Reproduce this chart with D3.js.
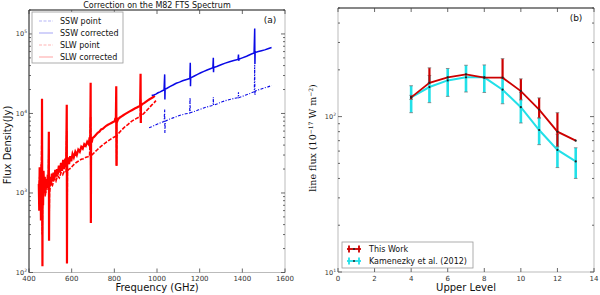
<!DOCTYPE html>
<html>
<head>
<meta charset="utf-8">
<script src="https://cdn.jsdelivr.net/npm/d3@7"></script>
<style>
body{margin:0;background:#fff}
svg{display:block}
text{font-family:"DejaVu Sans",sans-serif;fill:#111}
</style>
</head>
<body>
<svg id="mainsvg" width="600" height="295"></svg>
<script>
let svg = d3.select('#mainsvg');

// ---- panel (a): M82 FTS spectrum, [frequency GHz, flux density Jy]
const slwCorrected = [[446,1300],[448,600],[450,2100],[452,900],[454,1700],[456,450],[458,2300],[460,1100],[461,15300],[462,1200],[463,120],[464,1400],[466,700],[468,1900],[471,1200],[474,1600],[477,1000],[480,1500],[484,1150],[488,1700],[491,1300],[493,5900],[494,250],[495,1200],[499,1600],[503,1250],[507,1750],[511,1400],[515,1800],[519,1450],[523,1950],[527,1600],[531,2000],[535,1700],[540,2200],[545,1800],[550,2400],[555,1900],[560,2600],[565,2000],[570,2700],[574,2100],[577,12900],[578,130],[579,2300],[583,2800],[588,2300],[593,2900],[598,2500],[604,3100],[610,2800],[617,3300],[624,3000],[631,3500],[638,3300],[645,3800],[652,3600],[659,4100],[666,3900],[673,4400],[680,4100],[684,5000],[687,4300],[689,24300],[690,420],[691,5000],[694,4300],[698,4900],[706,5100],[714,5400],[722,5700],[730,5900],[738,6300],[746,6400],[754,6700],[762,7000],[770,7200],[778,7400],[786,7600],[794,7800],[802,8000],[805,8800],[807,7800],[809,22000],[810,2200],[811,8800],[814,8000],[818,8500],[826,8900],[834,9200],[842,9500],[850,9800],[858,10100],[866,10400],[874,10700],[882,11000],[890,11300],[898,11600],[906,11900],[914,12200],[921,12500],[923,31600],[924,7600],[925,12600],[933,13200],[941,13600],[949,14100],[957,14600],[965,15100],[973,15500],[981,16000],[990,16600]];
const slwPoint = [[446,1100],[450,1600],[454,800],[458,1700],[461,9000],[462,300],[464,1200],[470,1400],[476,900],[482,1300],[490,1100],[493,3500],[494,400],[496,1000],[502,1350],[510,1250],[518,1500],[526,1400],[534,1650],[542,1550],[550,1800],[558,1700],[566,1900],[574,1850],[577,6000],[578,300],[580,1900],[588,2000],[596,2050],[605,2200],[615,2350],[625,2450],[635,2550],[645,2650],[655,2700],[665,2800],[675,2850],[684,2900],[689,9000],[690,900],[692,2950],[700,3100],[710,3300],[720,3500],[730,3700],[740,3900],[750,4100],[760,4300],[770,4500],[780,4700],[790,4900],[800,5050],[809,5200],[810,9000],[811,2200],[812,5300],[822,5700],[832,6100],[842,6500],[852,6900],[862,7200],[872,7600],[882,8000],[892,8300],[902,8600],[912,8900],[921,9100],[923,15000],[924,7600],[926,9300],[936,9900],[946,10500],[956,11200],[966,12000],[976,12800],[986,13600],[995,14500]];
const sswCorrected = [[975,16800],[985,17100],[995,17500],[1005,18200],[1015,18700],[1025,19300],[1033,19800],[1036,31000],[1037,15000],[1038,20200],[1045,20600],[1060,21800],[1075,22800],[1090,24000],[1105,24800],[1120,25800],[1135,26600],[1150,27300],[1154,27800],[1156,43400],[1157,22000],[1158,28000],[1175,29600],[1190,31000],[1205,32500],[1220,33800],[1235,35200],[1250,36500],[1262,37500],[1264,50000],[1265,33000],[1266,37800],[1280,39000],[1300,41000],[1320,43000],[1340,44800],[1360,46300],[1380,47800],[1382,55000],[1383,46000],[1385,48200],[1400,50000],[1420,52500],[1440,55500],[1455,57500],[1458,117000],[1459,42000],[1460,58500],[1475,60000],[1490,61500],[1505,63000],[1520,65000],[1537,67500]];
const sswPoint = [[963,6600],[975,6800],[990,7100],[1005,7400],[1020,7700],[1033,7900],[1036,11200],[1037,5700],[1039,8000],[1055,8400],[1075,8800],[1095,9200],[1115,9600],[1135,9900],[1153,10100],[1155,15800],[1156,10200],[1175,10600],[1195,11100],[1215,11600],[1235,12100],[1255,12500],[1263,12700],[1264,16000],[1265,12700],[1285,13300],[1305,14000],[1325,14600],[1345,15100],[1365,15500],[1380,15800],[1382,18500],[1383,15800],[1400,16400],[1420,17200],[1440,18000],[1456,18800],[1458,41000],[1459,17000],[1461,19200],[1480,20000],[1500,20800],[1520,21600],[1537,22400]];
const freqTicks = [400, 600, 800, 1000, 1200, 1400, 1600];
const fluxDecades = [2, 3, 4, 5];
const legendA = ['SSW point', 'SSW corrected', 'SLW point', 'SLW corrected'];

// ---- panel (b): CO line fluxes (1e-17 W m^-2) against upper level J
const levels = [4, 5, 6, 7, 8, 9, 10, 11, 12, 13];
const thisWork = [133, 165, 179, 187, 178, 178, 146, 111, 80, 70];
const thisWorkLow = [129, 165, 179, 187, 178, 178, 128, 98, 64, 70];
const thisWorkHigh = [137, 206, 179, 187, 178, 236, 175, 132, 106, 70];
const kamenetzky = [133, 155, 171, 179, 179, 149, 115, 82, 61, 51.5];
const kamenetzkyLow = [106, 123, 135, 144, 143, 121, 91, 66, 47, 40];
const kamenetzkyHigh = [158, 184, 204, 214, 215, 177, 143, 98, 77, 63];
const levelTicks = [0, 2, 4, 6, 8, 10, 12, 14];
const lineFluxDecades = [1, 2];
const legendB = ['This Work', 'Kamenezky et al. (2012)'];

const blue = '#0a0ae6', red = '#ff0000', cyan = '#22e0e8', darkred = '#cc0000';

// scales
const xA = d3.scaleLinear().domain([400, 1600]).range([29, 285]);
const yA = d3.scaleLog().domain([100, 2e5]).range([272.5, 10]);
const xB = d3.scaleLinear().domain([0, 14]).range([338, 594]);
const yB = d3.scaleLog().domain([10, 500]).range([272, 8]);

function drawFrame(x0, x1, y0, y1, darkLeft) {
    svg.append('line').attr('x1', x0).attr('x2', x0).attr('y1', y0).attr('y2', y1)
        .attr('stroke', darkLeft ? '#111' : '#bbb').attr('stroke-width', 1);
    svg.append('line').attr('x1', x1).attr('x2', x1).attr('y1', y0).attr('y2', y1)
        .attr('stroke', '#bbb').attr('stroke-width', 1);
    svg.append('line').attr('x1', x0).attr('x2', x1).attr('y1', y1).attr('y2', y1)
        .attr('stroke', '#bbb').attr('stroke-width', 1);
    svg.append('line').attr('x1', x0).attr('x2', x1).attr('y1', y0).attr('y2', y0)
        .attr('stroke', '#111').attr('stroke-width', 1.2);
}

function drawTicks(x, y, xticks, decades) {
    const [x0, x1] = x.range();
    const [y1, y0] = y.range();
    const g = svg.append('g').attr('stroke', '#444').attr('stroke-width', 0.8);
    xticks.forEach(t => {
        g.append('line').attr('x1', x(t)).attr('x2', x(t)).attr('y1', y1).attr('y2', y1 - 4);
        g.append('line').attr('x1', x(t)).attr('x2', x(t)).attr('y1', y0).attr('y2', y0 + 4);
    });
    y.ticks().forEach(t => {
        const major = Math.abs(Math.log10(t) - Math.round(Math.log10(t))) < 1e-9;
        const len = major ? 4 : 2;
        g.append('line').attr('x1', x0).attr('x2', x0 + len).attr('y1', y(t)).attr('y2', y(t));
        g.append('line').attr('x1', x1).attr('x2', x1 - len).attr('y1', y(t)).attr('y2', y(t));
    });
    svg.selectAll(null).data(xticks).enter().append('text')
        .attr('x', d => x(d)).attr('y', y1 + 8.5)
        .attr('text-anchor', 'middle').attr('font-size', 7).style('fill', '#333')
        .text(d => d);
    const lab = svg.selectAll(null).data(decades).enter().append('text')
        .attr('x', x0 - 2).attr('y', d => y(Math.pow(10, d)) + 2.5)
        .attr('text-anchor', 'end').attr('font-size', 6.5).style('fill', '#333');
    lab.append('tspan').text('10');
    lab.append('tspan').attr('dy', -3).attr('font-size', 4.5).text(d => d);
}

// ---------------- panel (a)
drawFrame(29, 285, 10, 272.5, true);
svg.append('clipPath').attr('id', 'clipA').append('rect')
    .attr('x', 29).attr('y', 10).attr('width', 256).attr('height', 262.5);

const lineA = d3.line().x(d => xA(d[0])).y(d => yA(d[1]));
const gA = svg.append('g').attr('clip-path', 'url(#clipA)').attr('fill', 'none');
gA.append('path').datum(slwPoint).attr('d', lineA)
    .attr('stroke', red).attr('stroke-width', 1.6).attr('stroke-dasharray', '4,1.5');
gA.append('path').datum(slwCorrected).attr('d', lineA)
    .attr('stroke', red).attr('stroke-width', 2.2);
gA.append('path').datum(sswPoint).attr('d', lineA)
    .attr('stroke', blue).attr('stroke-width', 1.1).attr('stroke-dasharray', '3,1.5,1,1.5');
gA.append('path').datum(sswCorrected).attr('d', lineA)
    .attr('stroke', blue).attr('stroke-width', 1.5);

drawTicks(xA, yA, freqTicks, fluxDecades);

svg.append('text').attr('x', 157).attr('y', 7.5).attr('text-anchor', 'middle')
    .attr('font-size', 8).text('Correction on the M82 FTS Spectrum');
svg.append('text').attr('x', 270).attr('y', 23).attr('text-anchor', 'middle')
    .attr('font-size', 9).text('(a)');
svg.append('text').attr('x', 157).attr('y', 291).attr('text-anchor', 'middle')
    .attr('font-size', 10).text('Frequency (GHz)');
svg.append('text').attr('transform', 'translate(11,145) rotate(-90)')
    .attr('text-anchor', 'middle').attr('font-size', 10).text('Flux Density(Jy)');

// legend (a)
const legA = svg.append('g');
legA.append('rect').attr('x', 32).attr('y', 12).attr('width', 91).attr('height', 51)
    .attr('fill', '#fff').attr('stroke', '#999').attr('stroke-width', 0.8);
const legStyles = [
    {c: blue, dash: '3,1.5'}, {c: blue, dash: null},
    {c: red, dash: '3,1.5'}, {c: red, dash: null}
];
legendA.forEach((name, i) => {
    const yy = 21 + i * 12;
    legA.append('line').attr('x1', 39).attr('x2', 53).attr('y1', yy).attr('y2', yy)
        .attr('stroke', legStyles[i].c).attr('stroke-opacity', 0.3).attr('stroke-width', 1.2)
        .attr('stroke-dasharray', legStyles[i].dash);
    legA.append('text').attr('x', 60).attr('y', yy + 3).attr('font-size', 8).text(name);
});

// ---------------- panel (b)
drawFrame(338, 594, 8, 272, false);

const rows = levels.map((j, i) => ({
    j: j,
    red: thisWork[i], redLo: thisWorkLow[i], redHi: thisWorkHigh[i],
    cy: kamenetzky[i], cyLo: kamenetzkyLow[i], cyHi: kamenetzkyHigh[i]
}));

function errorBars(lo, hi, color, w) {
    const g = svg.append('g');
    rows.filter(d => d[hi] > d[lo]).forEach(d => {
        g.append('line').attr('x1', xB(d.j)).attr('x2', xB(d.j))
            .attr('y1', yB(d[lo])).attr('y2', yB(d[hi]))
            .attr('stroke', color).attr('stroke-width', w);
        [d[lo], d[hi]].forEach(v => {
            g.append('line').attr('x1', xB(d.j) - 1.8).attr('x2', xB(d.j) + 1.8)
                .attr('y1', yB(v)).attr('y2', yB(v))
                .attr('stroke', '#777').attr('stroke-width', 0.8);
        });
    });
}

errorBars('cyLo', 'cyHi', cyan, 2.6);
svg.append('path').datum(rows)
    .attr('d', d3.line().x(d => xB(d.j)).y(d => yB(d.cy)))
    .attr('fill', 'none').attr('stroke', cyan).attr('stroke-width', 2);
errorBars('redLo', 'redHi', darkred, 2.2);
svg.append('path').datum(rows)
    .attr('d', d3.line().x(d => xB(d.j)).y(d => yB(d.red)))
    .attr('fill', 'none').attr('stroke', darkred).attr('stroke-width', 1.8);

svg.selectAll(null).data(rows).enter().append('circle')
    .attr('cx', d => xB(d.j)).attr('cy', d => yB(d.cy)).attr('r', 1.1).attr('fill', '#222');
svg.selectAll(null).data(rows).enter().append('circle')
    .attr('cx', d => xB(d.j)).attr('cy', d => yB(d.red)).attr('r', 1.1).attr('fill', '#222');

drawTicks(xB, yB, levelTicks, lineFluxDecades);

svg.append('text').attr('x', 576).attr('y', 21).attr('text-anchor', 'middle')
    .attr('font-size', 9).text('(b)');
svg.append('text').attr('x', 466).attr('y', 291).attr('text-anchor', 'middle')
    .attr('font-size', 10).text('Upper Level');

const yLabB = svg.append('text').attr('transform', 'translate(316,138) rotate(-90)')
    .attr('text-anchor', 'middle').attr('font-size', 9.5)
    .style('font-family', '"DejaVu Serif",serif');
yLabB.append('tspan').text('line flux (10');
yLabB.append('tspan').attr('dy', -3.5).attr('font-size', 6).text('−17');
yLabB.append('tspan').attr('dy', 3.5).text(' W m');
yLabB.append('tspan').attr('dy', -3.5).attr('font-size', 6).text('−2');
yLabB.append('tspan').attr('dy', 3.5).text(')');

// legend (b)
const legB = svg.append('g');
legB.append('rect').attr('x', 342).attr('y', 242).attr('width', 131).attr('height', 26)
    .attr('fill', '#fff').attr('stroke', '#999').attr('stroke-width', 0.8);
[darkred, cyan].forEach((c, i) => {
    const yy = 249 + i * 12;
    legB.append('line').attr('x1', 347).attr('x2', 361).attr('y1', yy).attr('y2', yy)
        .attr('stroke', c).attr('stroke-width', 1.8);
    [349, 359].forEach(xx => {
        legB.append('line').attr('x1', xx).attr('x2', xx).attr('y1', yy - 3.5).attr('y2', yy + 3.5)
            .attr('stroke', c).attr('stroke-width', 1.8);
    });
    legB.append('circle').attr('cx', 354).attr('cy', yy).attr('r', 1).attr('fill', '#222');
    legB.append('text').attr('x', 369).attr('y', yy + 3).attr('font-size', 8).text(legendB[i]);
});
</script>
</body>
</html>
